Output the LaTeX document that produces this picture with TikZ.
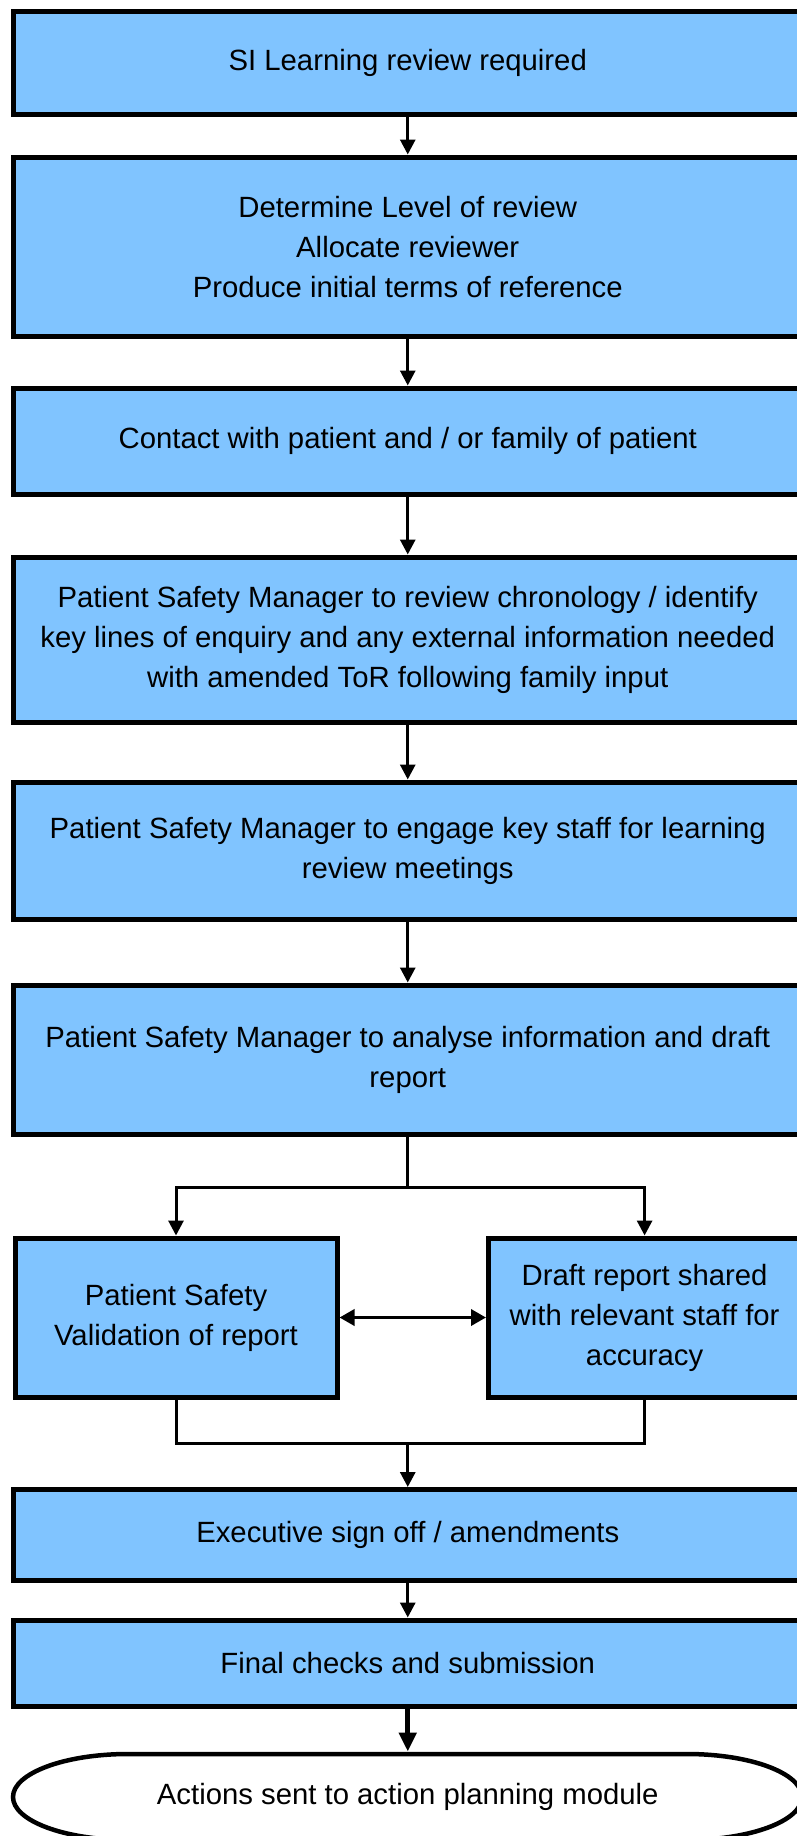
\documentclass[tikz,border=0pt]{standalone}
\usepackage{fontspec}
\setmainfont{Liberation Sans}
\usetikzlibrary{arrows.meta}
\definecolor{boxblue}{RGB}{128,196,255}
\tikzset{
  flowbox/.style={draw=black, fill=boxblue, line width=5pt, inner sep=0pt,
    align=center, font=\fontsize{29.3}{40}\selectfont},
  conn/.style={line width=3pt, draw=black},
  arr/.style={conn, -{Triangle[length=15pt,width=15pt]}},
  dblarr/.style={line width=3.5pt, {Triangle[length=15pt,width=16pt]}-{Triangle[length=15pt,width=16pt]}},
  thickarr/.style={line width=5pt, -{Triangle[length=19pt,width=17pt]}},
  termtext/.style={inner sep=0pt, outer sep=2.5pt, align=center, font=\fontsize{29.3}{40}\selectfont},
  termline/.style={draw=black, fill=white, line width=4.5pt}
}
\begin{document}
\begin{tikzpicture}[x=1pt,y=-1pt]
\useasboundingbox (0,0) rectangle (797,1836);
\clip (0,0) rectangle (797,1836);
\fill[white] (0,0) rectangle (797,1836);

\node[flowbox, minimum width=788.5pt, minimum height=102.8pt] (b1) at (407.75,63.1) {SI Learning review required};
\node[flowbox, minimum width=788.5pt, minimum height=179.5pt] (b2) at (407.75,246.75) {Determine Level of review\\Allocate reviewer\\Produce initial terms of reference};
\node[flowbox, minimum width=788.5pt, minimum height=106pt] (b3) at (407.75,441) {Contact with patient and / or family of patient};
\node[flowbox, minimum width=788.5pt, minimum height=165pt] (b4) at (407.75,639.5) {Patient Safety Manager to review chronology / identify\\key lines of enquiry and any external information needed\\with amended ToR following family input};
\node[flowbox, minimum width=788.5pt, minimum height=137pt] (b5) at (407.75,850.5) {Patient Safety Manager to engage key staff for learning\\review meetings};
\node[flowbox, minimum width=788.5pt, minimum height=149pt] (b6) at (407.75,1059.5) {Patient Safety Manager to analyse information and draft\\report};
\node[flowbox, minimum width=322pt, minimum height=159pt] (left) at (176,1317.5) {Patient Safety\\Validation of report};
\node[flowbox, minimum width=312.2pt, minimum height=159pt] (right) at (644.6,1317.5) {Draft report shared\\with relevant staff for\\accuracy};
\node[flowbox, minimum width=788.5pt, minimum height=90.5pt] (exec) at (407.75,1534.75) {Executive sign off / amendments};
\node[flowbox, minimum width=788.5pt, minimum height=86pt] (final) at (407.75,1663) {Final checks and submission};

% terminator shape
\draw[termline] (128,1754) -- (687,1754)
  arc[start angle=-90, end angle=90, x radius=115, y radius=43]
  -- (128,1840)
  arc[start angle=90, end angle=270, x radius=115, y radius=43] -- cycle;
\node[termtext, minimum width=788.5pt, minimum height=86pt] (term) at (407.75,1797) {Actions sent to action planning module};

\coordinate (split) at (407.75,1187.3);
\coordinate (merge) at (407.75,1443);

\draw[arr] (b1.south) -- (b2.north);
\draw[arr] (b2.south) -- (b3.north);
\draw[arr] (b3.south) -- (b4.north);
\draw[arr] (b4.south) -- (b5.north);
\draw[arr] (b5.south) -- (b6.north);
\draw[conn] (b6.south) -- (split);
\draw[arr] (split) -| (left.north);
\draw[arr] (split) -| (right.north);
\draw[dblarr] (left.east) -- (left.east -| right.west);
\draw[conn] (left.south) |- (merge);
\draw[conn] (right.south) |- (merge);
\draw[arr] (merge) -- (exec.north);
\draw[arr] (exec.south) -- (final.north);
\draw[thickarr] (final.south) -- (term.north);
\end{tikzpicture}
\end{document}
